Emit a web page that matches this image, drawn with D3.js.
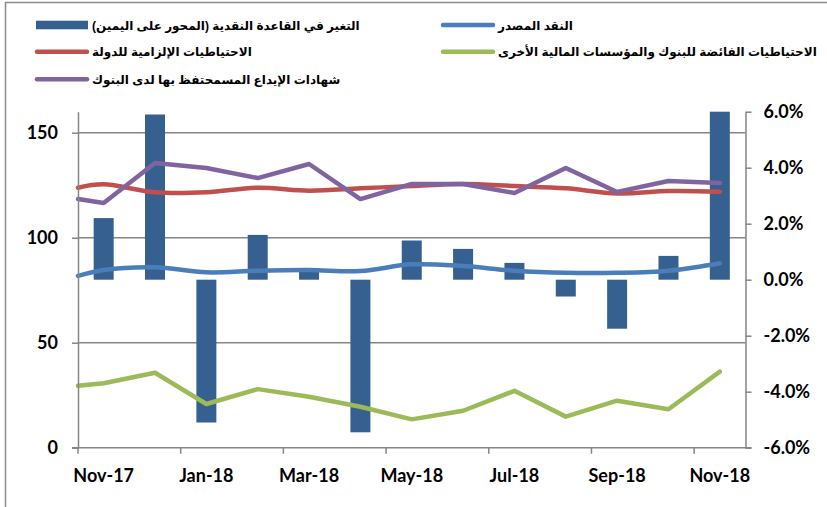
<!DOCTYPE html>
<html>
<head>
<meta charset="utf-8">
<script src="https://cdn.jsdelivr.net/npm/d3@7"></script>
<style>
  body { margin: 0; background: #fff; }
  svg { display: block; }
  .tick text { font-family: Lato, "Open Sans", sans-serif; font-weight: 700; font-size: 18px; fill: #000; }
  .legend text { font-family: Arial, "Liberation Sans", "DejaVu Sans", sans-serif; font-weight: 700; font-size: 12px; fill: #000; }
</style>
</head>
<body>
<div id="chart"></div>
<script>
// months (categories)
const months = ["Nov-17", "Dec-17", "Jan-18", "Feb-18", "Mar-18", "Apr-18", "May-18",
                "Jun-18", "Jul-18", "Aug-18", "Sep-18", "Oct-18", "Nov-18"];

// change in monetary base, % (right axis)
const changeBase = [2.2, 5.9, -5.1, 1.6, 0.35, -5.45, 1.4, 1.1, 0.6, -0.6, -1.75, 0.85, 6.0];

// line series (left axis): opening value + one per month
const currencyIssued = [81.8, 84.6, 85.9, 83.5, 84.3, 84.6, 84.1, 87.3, 86.5, 84.3, 83.3, 83.3, 84.3, 87.8];
const requiredReserves = [123.8, 125.4, 121.6, 121.6, 123.8, 122.4, 123.5, 124.6, 125.6, 124.6, 123.5, 121.1, 122.2, 121.9];
const excessReserves = [29.5, 30.7, 35.7, 20.8, 27.9, 24.3, 19.5, 13.5, 17.6, 27.1, 14.8, 22.4, 18.3, 36.2];
const depositCerts = [118.4, 116.5, 135.6, 133.2, 128.4, 135.1, 118.4, 125.6, 125.6, 121.3, 133.2, 121.8, 127, 126];

const leftTicks = [0, 50, 100, 150];
const rightTicks = [-6, -4, -2, 0, 2, 4, 6];

const names = {
  bar: "التغير في القاعدة النقدية (المحور على اليمين)",
  currency: "النقد المصدر",
  required: "الاحتياطيات الإلزامية للدولة",
  excess: "الاحتياطيات الفائضة للبنوك والمؤسسات المالية الأخرى",
  certs: "شهادات الإيداع المسمحتفظ بها لدى البنوك"
};

const W = 827, H = 507;
const plot = { left: 78, right: 745.5, top: 111.7, bottom: 447.7 };
const axisColor = "#868686";

const svg = d3.select("#chart").append("svg")
  .attr("width", W).attr("height", H);

svg.append("rect").attr("width", W).attr("height", H).attr("fill", "#fff");
svg.append("rect")
  .attr("x", 5.5).attr("y", 2.5).attr("width", W).attr("height", H)
  .attr("fill", "none").attr("stroke", "#8c8c8c").attr("stroke-width", 1.5);

const x = d3.scaleLinear().domain([0, months.length]).range([plot.left, plot.right]);
const yL = d3.scaleLinear().domain([0, 160]).range([plot.bottom, plot.top]);
const yR = d3.scaleLinear().domain([-6, 6]).range([plot.bottom, plot.top]);

// gridlines
svg.append("g").selectAll("line")
  .data(leftTicks.filter(d => d > 0))
  .enter().append("line")
  .attr("x1", plot.left).attr("x2", plot.right)
  .attr("y1", d => yL(d)).attr("y2", d => yL(d))
  .attr("stroke", axisColor).attr("stroke-width", 1.5);

// bars
const barW = 20;
svg.append("g").selectAll("rect")
  .data(changeBase)
  .enter().append("rect")
  .attr("x", (d, i) => x(i + 0.5) - barW / 2)
  .attr("width", barW)
  .attr("y", d => yR(Math.max(0, d)))
  .attr("height", d => Math.abs(yR(d) - yR(0)))
  .attr("fill", "#36608f");

// lines
const linePos = [0].concat(months.map((m, i) => i + 0.5));
function drawLine(values, color, curve) {
  const line = d3.line()
    .x((d, i) => x(linePos[i]))
    .y(d => yL(d))
    .curve(curve);
  svg.append("path")
    .datum(values)
    .attr("d", line)
    .attr("fill", "none")
    .attr("stroke", color)
    .attr("stroke-width", 4.5)
    .attr("stroke-linejoin", "round")
    .attr("stroke-linecap", "round");
}
drawLine(currencyIssued, "#4a7ebb", d3.curveCatmullRom.alpha(0.5));
drawLine(requiredReserves, "#c0504d", d3.curveCatmullRom.alpha(0.5));
drawLine(excessReserves, "#9bbb59", d3.curveLinear);
drawLine(depositCerts, "#8064a2", d3.curveLinear);

// left axis
const gl = svg.append("g")
  .attr("transform", `translate(${plot.left},0)`)
  .call(d3.axisLeft(yL).tickValues(leftTicks).tickSize(6).tickSizeOuter(0).tickPadding(14));
gl.select(".domain").attr("stroke", axisColor).attr("stroke-width", 1.5);
gl.selectAll(".tick line").attr("stroke", axisColor).attr("stroke-width", 1.5);

// right axis
const gr = svg.append("g")
  .attr("transform", `translate(${plot.right},0)`)
  .call(d3.axisRight(yR).tickValues(rightTicks).tickSize(6).tickSizeOuter(0).tickPadding(12)
    .tickFormat(d => d.toFixed(1) + "%"));
gr.select(".domain").attr("stroke", axisColor).attr("stroke-width", 1.5);
gr.selectAll(".tick line").attr("stroke", axisColor).attr("stroke-width", 1.5);

// bottom axis: ticks every two months on category boundaries, labels centred on categories
const gb = svg.append("g");
gb.append("line")
  .attr("x1", plot.left - 6).attr("x2", plot.right + 6)
  .attr("y1", plot.bottom).attr("y2", plot.bottom)
  .attr("stroke", axisColor).attr("stroke-width", 1.5);
const labelIdx = months.map((m, i) => i).filter(i => i % 2 === 0);
gb.selectAll(".xt").data(labelIdx).enter().append("line")
  .attr("x1", d => x(d)).attr("x2", d => x(d))
  .attr("y1", plot.bottom).attr("y2", plot.bottom + 6)
  .attr("stroke", axisColor).attr("stroke-width", 1.5);
gb.selectAll("text").data(labelIdx).enter().append("text")
  .attr("class", "xl")
  .attr("x", d => x(d + 0.5))
  .attr("y", 481.5)
  .attr("text-anchor", "middle")
  .style("font-family", "Lato, 'Open Sans', sans-serif")
  .style("font-weight", 700).style("font-size", "18px")
  .text(d => months[d]);

// legend
const legend = svg.append("g").attr("class", "legend");
const items = [
  { key: "bar", color: "#36608f", type: "bar", x: 36, y: 25 },
  { key: "required", color: "#c0504d", type: "line", x: 36, y: 51.7 },
  { key: "certs", color: "#8064a2", type: "line", x: 36, y: 79.3 },
  { key: "currency", color: "#4a7ebb", type: "line", x: 442, y: 25 },
  { key: "excess", color: "#9bbb59", type: "line", x: 442, y: 51.7 }
];
items.forEach(it => {
  if (it.type === "bar") {
    legend.append("rect")
      .attr("x", it.x).attr("y", it.y - 4.3).attr("width", 52).attr("height", 8.6)
      .attr("fill", it.color);
  } else {
    legend.append("line")
      .attr("x1", it.x + 1).attr("x2", it.x + 51)
      .attr("y1", it.y).attr("y2", it.y)
      .attr("stroke", it.color).attr("stroke-width", 4.5).attr("stroke-linecap", "round");
  }
  legend.append("text")
    .attr("x", it.x + 56)
    .attr("y", it.y + 4.5)
    .attr("direction", "rtl")
    .attr("text-anchor", "end")
    .text(names[it.key]);
});
</script>
</body>
</html>
